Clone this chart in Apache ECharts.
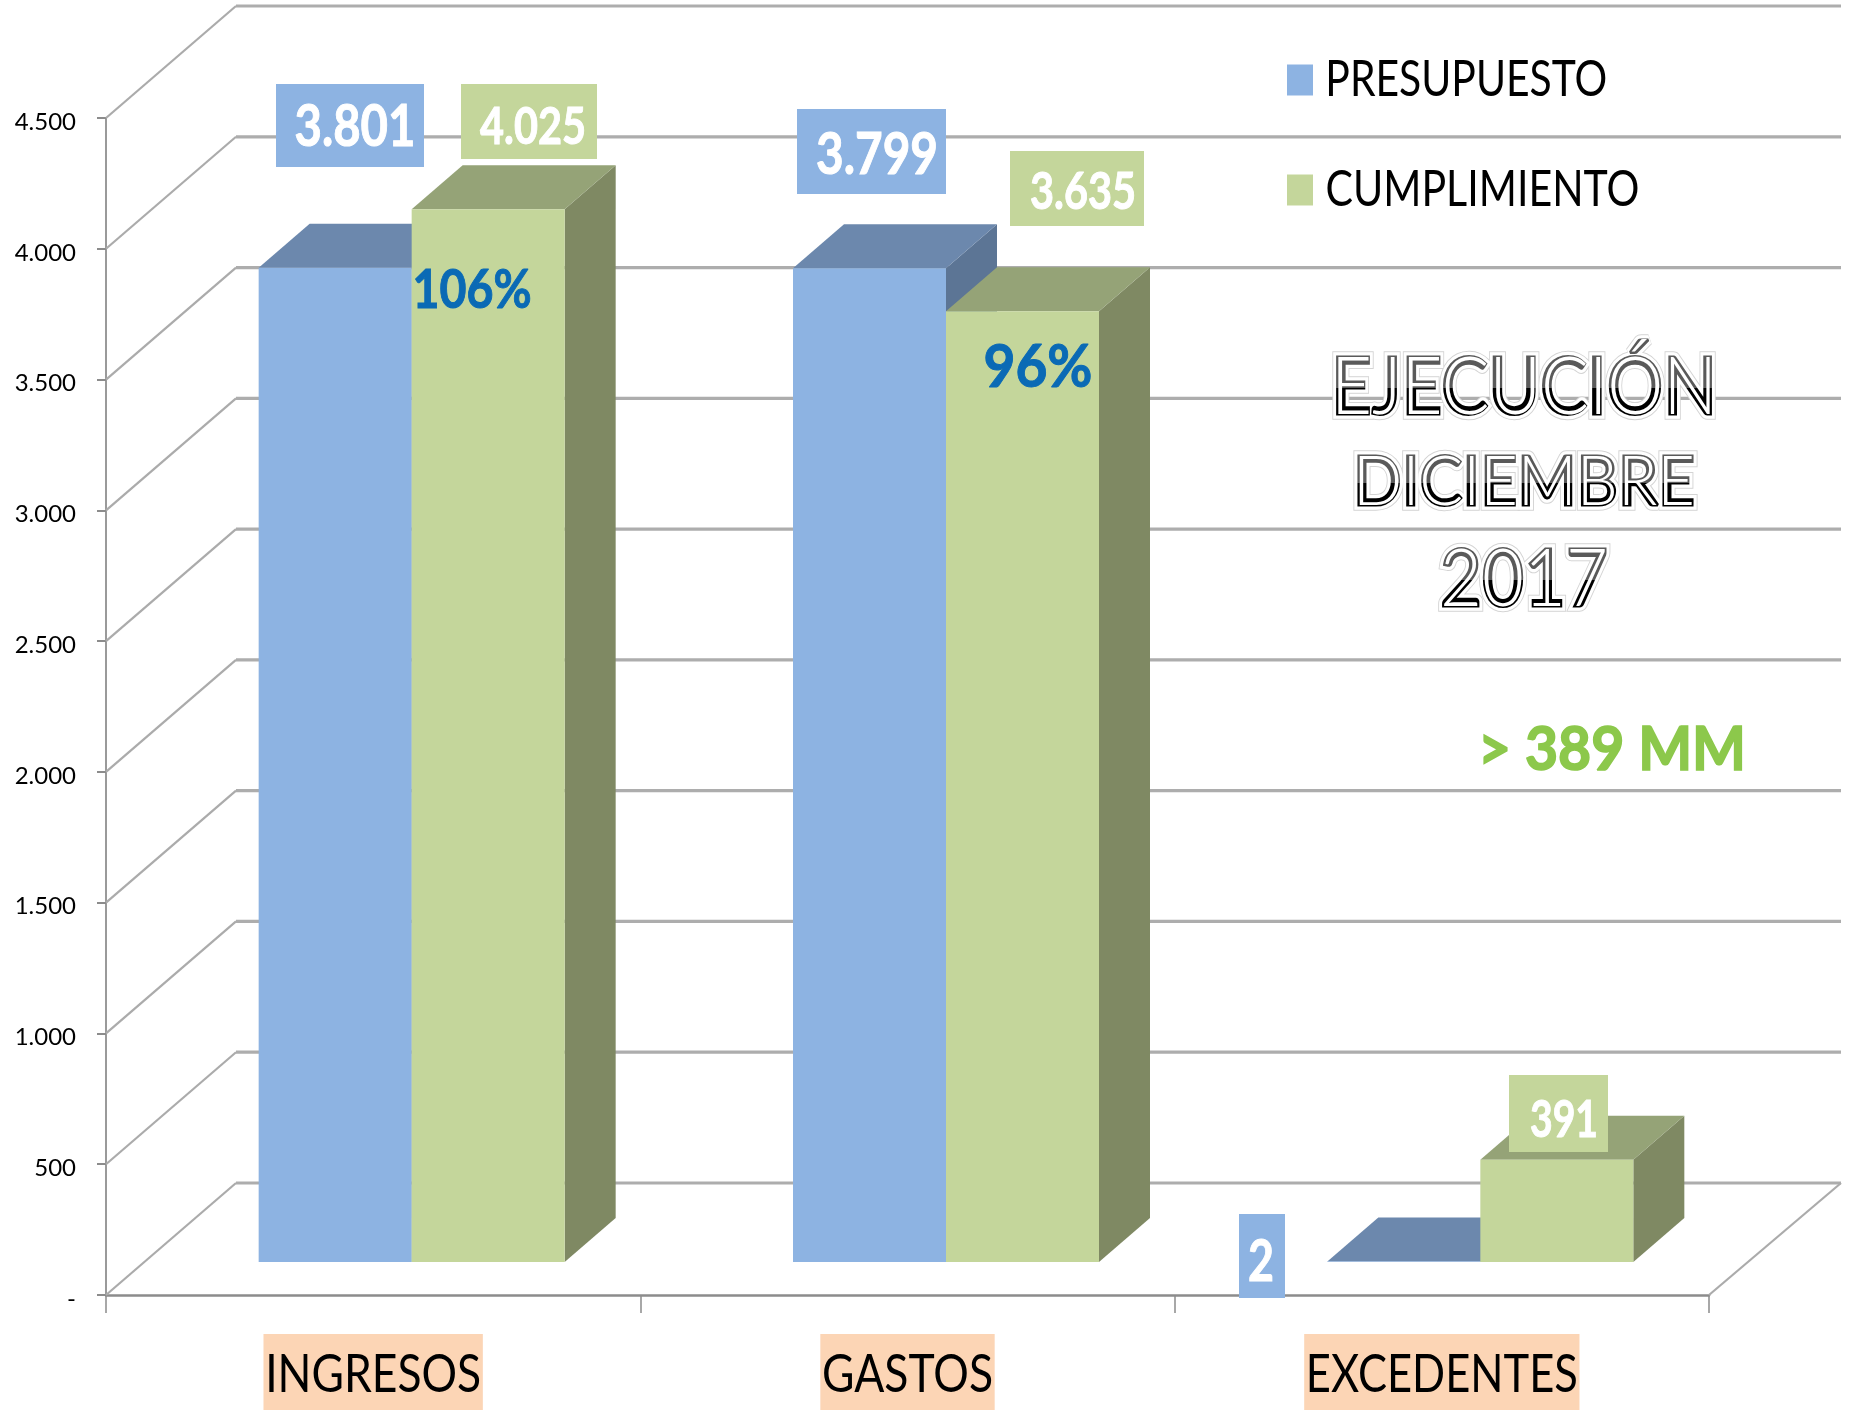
<!DOCTYPE html>
<html><head><meta charset="utf-8">
<style>html,body{margin:0;padding:0;background:#fff}#c{width:1865px;height:1411px}</style>
<script src="https://cdn.jsdelivr.net/npm/echarts@6/dist/echarts.min.js"></script>
</head><body><div id="c"></div>
<script>
const categories = ['INGRESOS', 'GASTOS', 'EXCEDENTES'];
const presupuesto = [3801, 3799, 2];
const cumplimiento = [4025, 3635, 391];
const porcentajes = ['106%', '96%'];
const ticks = [0, 500, 1000, 1500, 2000, 2500, 3000, 3500, 4000, 4500];
const seriesNames = ['PRESUPUESTO', 'CUMPLIMIENTO'];
const titulo = ['EJECUCIÓN', 'DICIEMBRE', '2017'];
const nota = '> 389 MM';

const fmt = v => v === 0 ? '-' : String(v).replace(/\B(?=(\d{3})+$)/g, '.');
const FONT = 'Lato, "Noto Sans", sans-serif';
const BLUE = {front:'#8DB3E2', top:'#6C88AD', side:'#5C7595'};
const GREEN = {front:'#C4D69B', top:'#95A377', side:'#7F8963'};
// perspective of the pseudo-3D frame
const WALL = {dx:130, dy:-112}, FLOOR_RIGHT = 132;
const BAR = {width:153, shiftX:38.5, shiftY:-33, dx:51, dy:-44};

const measure = document.createElement('canvas').getContext('2d');
function fitted(text, weight, size, width){
  measure.font = weight + ' ' + size + 'px Lato';
  return width / measure.measureText(text).width;
}
function label(text, cx, cy, size, width, fill, weight, extra){
  return {type:'text', x:cx, y:cy, scaleX:fitted(text, weight, size, width), silent:true, z:20,
    style:Object.assign({text, fill, align:'center', verticalAlign:'middle',
      font:weight+' '+size+'px '+FONT}, extra||{})};
}
function box(x0, y0, x1, y1, fill){
  return {type:'rect', shape:{x:x0, y:y0, width:x1-x0, height:y1-y0}, style:{fill}, silent:true, z:19};
}
const glow = {shadowColor:'rgba(0,60,110,0.55)', shadowBlur:2, shadowOffsetY:1.5, stroke:'#0A6AB5', lineWidth:1};
const heavy = {stroke:'#fff', lineWidth:1};

const graphicEls = [
  box(276,84,424,167,BLUE.front), label(fmt(presupuesto[0]),355,127,58,121,'#fff','bold',heavy),
  box(461,84,597,159,GREEN.front), label(fmt(cumplimiento[0]),533,127,52,106,'#fff','bold',heavy),
  box(797,109,946,194,BLUE.front), label(fmt(presupuesto[1]),877,155,58,122,'#fff','bold',heavy),
  box(1010,151,1144,226,GREEN.front), label(fmt(cumplimiento[1]),1083,192,52,106,'#fff','bold',heavy),
  box(1239,1214,1285,1298,BLUE.front), label(fmt(presupuesto[2]),1261,1262,58,26,'#fff','bold',heavy),
  box(1509,1075,1608,1152,GREEN.front), label(fmt(cumplimiento[2]),1564,1120,52,68,'#fff','bold',heavy),
  label(porcentajes[0],472,291,54,119,'#0A6AB5','bold',glow),
  label(porcentajes[1],1038,368,60,109,'#0A6AB5','bold',glow),
  label(nota,1612,750,62,268,'#8CC84B','bold',{shadowColor:'rgba(60,90,20,0.6)',shadowBlur:2,shadowOffsetY:1.5,stroke:'#8CC84B',lineWidth:1.6})
];

function poly(points, fill){
  return {type:'polygon', shape:{points}, style:{fill, lineWidth:0}};
}
function barRenderer(col, side){
  return function(params, api){
    const cat = api.value(0), val = api.value(1);
    const top = api.coord([cat, val]), base = api.coord([cat, 0]);
    const x0 = top[0] + BAR.shiftX + (side < 0 ? -BAR.width : 0), x1 = x0 + BAR.width;
    const yt = top[1] + BAR.shiftY, yb = base[1] + BAR.shiftY;
    const d = BAR.dx, e = BAR.dy;
    return {type:'group', children:[
      poly([[x1,yt],[x1+d,yt+e],[x1+d,yb+e],[x1,yb]], col.side),
      poly([[x0,yt],[x0+d,yt+e],[x1+d,yt+e],[x1,yt]], col.top),
      {type:'rect', shape:{x:x0, y:yt, width:BAR.width, height:yb-yt}, style:{fill:col.front}}
    ]};
  };
}
function gridRenderer(params, api){
  const cs = params.coordSys, v = api.value(0);
  const y = api.coord([0, v])[1], L = cs.x, R = cs.x + cs.width + FLOOR_RIGHT;
  const kids = [
    {type:'line', shape:{x1:L, y1:y, x2:L+WALL.dx, y2:y+WALL.dy}, style:{stroke:'#ABABAB', lineWidth:2.2}},
    {type:'line', shape:{x1:L+WALL.dx, y1:y+WALL.dy, x2:R, y2:y+WALL.dy}, style:{stroke:'#ADADAD', lineWidth:3.2}}
  ];
  if (v === 0) kids.push({type:'line', shape:{x1:cs.x+cs.width, y1:y, x2:R, y2:y+WALL.dy}, style:{stroke:'#ABABAB', lineWidth:2.2}});
  return {type:'group', children:kids};
}
const titleLines = [
  {cx:1524, cy:388, size:80, width:386, split:388},
  {cx:1524, cy:483, size:68, width:342, split:483},
  {cx:1524, cy:580, size:80, width:168, split:580}
];
function titleRenderer(){
  const kids = [];
  titleLines.forEach((t, i) => {
    const base = {type:'text', x:t.cx, y:t.cy, scaleX:fitted(titulo[i], 'normal', t.size, t.width), silent:true};
    const st = {text:titulo[i], align:'center', verticalAlign:'middle', font:'normal '+t.size+'px '+FONT};
    kids.push(Object.assign({}, base, {style:Object.assign({}, st, {fill:'#fff', stroke:'#D4D4D4', lineWidth:11.5, shadowColor:'rgba(0,0,0,0.5)', shadowBlur:5, shadowOffsetY:2})}));
    kids.push(Object.assign({}, base, {style:Object.assign({}, st, {fill:'#fff', stroke:'#fff', lineWidth:9.5})}));
    kids.push(Object.assign({}, base, {style:Object.assign({}, st, {fill:'#000', stroke:'#000', lineWidth:3}),
      clipPath:{type:'rect', shape:{x:-400, y:t.split-t.cy, width:800, height:100}}}));
    kids.push(Object.assign({}, base, {style:Object.assign({}, st, {fill:'#5A5A5A', stroke:'#5A5A5A', lineWidth:3}),
      clipPath:{type:'rect', shape:{x:-400, y:t.split-t.cy-100, width:800, height:100}}}));
    kids.push({type:'text', x:t.cx, y:t.cy, scaleX:fitted(titulo[i], '300', t.size, t.width), silent:true,
      style:Object.assign({}, st, {fill:'#fff', font:'300 '+t.size+'px '+FONT})});
  });
  return {type:'group', children:kids};
}

const LEGEND_SIZE = 50, CAT_SIZE = 53;
const targetWidths = {PRESUPUESTO:282, CUMPLIMIENTO:314, INGRESOS:216, GASTOS:171, EXCEDENTES:272};
const LEGEND_TEXT_SHIFT = 13, TICK_LABEL_DROP = 4;

const chart = echarts.init(document.getElementById('c'), null, {renderer:'canvas'});
chart.setOption({
  animation:false,
  backgroundColor:'#fff',
  grid:{left:106, right:156, top:118, bottom:116, containLabel:false},
  legend:{
    data:seriesNames, orient:'vertical', left:1287, top:55, padding:0, itemWidth:26, itemHeight:31, itemGap:60,
    icon:'rect', selectedMode:false,
    textStyle:{fontFamily:FONT, fontSize:LEGEND_SIZE, color:'#000'}
  },
  xAxis:{
    type:'category', data:categories,
    axisLine:{lineStyle:{color:'#8C8C8C', width:2.5}},
    axisTick:{show:true, length:18, lineStyle:{color:'#8C8C8C', width:1.5}},
    axisLabel:{
      margin:39, color:'#000', fontFamily:FONT, fontSize:CAT_SIZE,
      backgroundColor:'#FCD5B5', padding:[14,2,9,2]
    },
    splitLine:{show:false}
  },
  yAxis:{
    type:'value', min:0, max:4500, interval:500,
    axisLine:{show:true, lineStyle:{color:'#9A9A9A', width:2}},
    axisTick:{show:true, length:9, lineStyle:{color:'#8C8C8C', width:2}},
    axisLabel:{margin:30, color:'#000', fontFamily:FONT, fontSize:24, formatter:fmt},
    splitLine:{show:false}
  },
  series:[
    {type:'custom', name:'_grid', coordinateSystem:'cartesian2d', clip:false, silent:true, z:1,
     encode:{y:0}, data:ticks.map(v => [v]), renderItem:gridRenderer},
    {type:'custom', name:seriesNames[0], coordinateSystem:'cartesian2d', clip:false, silent:true, z:2,
     itemStyle:{color:BLUE.front}, encode:{x:0, y:1},
     data:presupuesto.map((v,i) => [i,v]), renderItem:barRenderer(BLUE,-1)},
    {type:'custom', name:seriesNames[1], coordinateSystem:'cartesian2d', clip:false, silent:true, z:3,
     itemStyle:{color:GREEN.front}, encode:{x:0, y:1},
     data:cumplimiento.map((v,i) => [i,v]), renderItem:barRenderer(GREEN,1)},
    {type:'custom', name:'_title', coordinateSystem:'cartesian2d', clip:false, silent:true, z:10,
     data:[[0,0]], renderItem:titleRenderer}
  ],
  graphic:{elements:graphicEls}
});

// The reference uses a condensed face: narrow the legend and category labels to its widths,
// and nudge legend text and tick labels to where the reference has them.
const zr = chart.getZr();
const tickTexts = ticks.map(fmt);
zr.storage.traverse(el => {
  const t = el.style && el.style.text;
  if (typeof t !== 'string') return;
  if (targetWidths[t]) {
    const isLegend = seriesNames.includes(t);
    el.scaleX = fitted(t, 'normal', isLegend ? LEGEND_SIZE : CAT_SIZE, targetWidths[t]);
    if (isLegend) el.x += LEGEND_TEXT_SHIFT;
    el.markRedraw();
  } else if (tickTexts.includes(t) && el.style.fontSize !== undefined && el.style.align === 'right') {
    el.y += TICK_LABEL_DROP;
    el.markRedraw();
  }
});
zr.refreshImmediately();
</script></body></html>
